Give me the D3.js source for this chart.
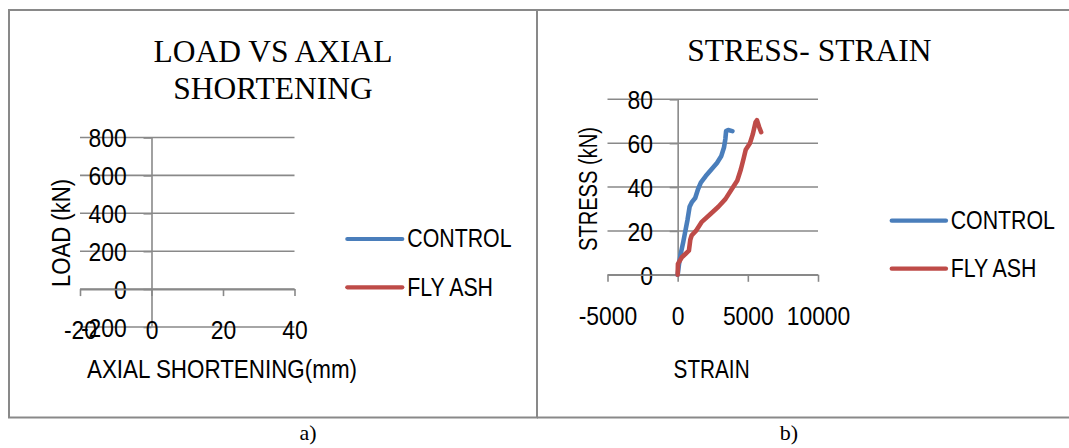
<!DOCTYPE html>
<html><head><meta charset="utf-8">
<script src="https://cdn.jsdelivr.net/npm/d3@7"></script>
<style>
html,body{margin:0;padding:0;background:#fff;}
svg{display:block;}
</style></head><body>
<svg id="c" width="1069" height="448"></svg>
<script>
// ---------- data ----------
const seriesNames = ["CONTROL", "FLY ASH"];
const seriesColors = ["#4a7ebb", "#be4b48"];

// Chart a) LOAD vs AXIAL SHORTENING (no plotted data in the figure)
const loadTitle = ["LOAD VS AXIAL", "SHORTENING"];
const loadXLabel = "AXIAL SHORTENING(mm)";
const loadYLabel = "LOAD (kN)";
const loadXTicks = [-20, 0, 20, 40];
const loadYTicks = [-200, 0, 200, 400, 600, 800];
const loadControl = [];
const loadFlyAsh = [];

// Chart b) STRESS - STRAIN  ([strain, stress])
const stressTitle = ["STRESS- STRAIN"];
const stressXLabel = "STRAIN";
const stressYLabel = "STRESS (kN)";
const stressXTicks = [-5000, 0, 5000, 10000];
const stressYTicks = [0, 20, 40, 60, 80];
const stressControl = [
  [0,0],[100,5],[200,9],[400,15],[550,20],[700,25],[850,31],[1000,33],[1250,35],
  [1450,39],[1650,42],[2000,45],[2400,48],[2800,51],[3100,54],[3300,58],[3400,62],
  [3450,65.5],[3600,66],[3900,65.5]
];
const stressFlyAsh = [
  [0,0],[20,5],[300,8],[550,9.5],[800,11],[900,16],[1000,18],[1300,20],[1700,24],
  [2300,27.5],[2900,31],[3400,34.5],[3850,39],[4250,43],[4500,48],[4700,53],[4850,57],
  [5150,60],[5350,64],[5550,69.5],[5650,70.5],[5800,67.5],[5950,65]
];

// ---------- drawing ----------
const svg = d3.select("#c");
const SANS = '"Liberation Sans",Arial,sans-serif';
const SERIF = '"Liberation Serif","Times New Roman",serif';
const GRID = "#898989";

// condense text horizontally (Calibri / narrow look)
function condense(sel, factor) {
  sel.each(function () {
    const w = this.getComputedTextLength();
    d3.select(this).attr("textLength", w * factor).attr("lengthAdjust", "spacingAndGlyphs");
  });
}

// panel frames
svg.append("rect").attr("x", 9).attr("y", 10).attr("width", 528).attr("height", 407.5)
  .attr("fill", "none").attr("stroke", GRID).attr("stroke-width", 2);
svg.append("line").attr("x1", 537).attr("x2", 1069).attr("y1", 10).attr("y2", 10)
  .attr("stroke", GRID).attr("stroke-width", 2);
svg.append("line").attr("x1", 537).attr("x2", 1069).attr("y1", 417.5).attr("y2", 417.5)
  .attr("stroke", GRID).attr("stroke-width", 2);

function drawChart(cfg) {
  const g = svg.append("g");
  const x = d3.scaleLinear().domain(cfg.xDomain).range(cfg.xRange);
  const y = d3.scaleLinear().domain(cfg.yDomain).range(cfg.yRange);

  // title
  cfg.title.forEach((t, i) => {
    g.append("text").attr("x", cfg.titleX).attr("y", cfg.titleY + i * 37)
      .attr("text-anchor", "middle").style("font-family", SERIF)
      .style("font-size", "31.5px").attr("fill", "#000").text(t);
  });

  // gridlines
  g.append("g").selectAll("line").data(cfg.yTicks).join("line")
    .attr("x1", x(cfg.xDomain[0])).attr("x2", x(cfg.xDomain[1]))
    .attr("y1", d => y(d)).attr("y2", d => y(d))
    .attr("stroke", GRID).attr("stroke-width", 1.6);

  // y axis at x = 0
  const ya = g.append("g").attr("transform", `translate(${x(0)},0)`)
    .call(d3.axisLeft(y).tickValues(cfg.yTicks).tickFormat(d => String(d))
      .tickSizeInner(8).tickSizeOuter(0).tickPadding(16.7));
  // x axis at y = 0
  const xa = g.append("g").attr("transform", `translate(0,${y(0)})`)
    .call(d3.axisBottom(x).tickValues(cfg.xTicks).tickFormat(d => String(d))
      .tickSizeInner(7).tickSizeOuter(0).tickPadding(cfg.xPad));
  [ya, xa].forEach(a => {
    a.select(".domain").attr("stroke", GRID).attr("stroke-width", 1.6);
    a.selectAll(".tick line").attr("stroke", GRID).attr("stroke-width", 1.6);
    a.selectAll(".tick text").attr("fill", "#000")
      .style("font-family", SANS).style("font-size", "26px");
    condense(a.selectAll(".tick text"), 0.88);
  });
  ya.selectAll(".tick text").attr("dy", "0.36em");

  // axis titles
  const yt = g.append("text")
    .attr("transform", `translate(${cfg.yLabelX},${cfg.yLabelY}) rotate(-90)`)
    .attr("text-anchor", "middle").style("font-family", SANS).style("font-size", "26px")
    .attr("fill", "#000").text(cfg.yLabel)
    .attr("textLength", cfg.yLabelLen).attr("lengthAdjust", "spacingAndGlyphs");
  const xt = g.append("text").attr("x", cfg.xLabelX).attr("y", cfg.xLabelY)
    .attr("text-anchor", "middle").style("font-family", SANS).style("font-size", "26px")
    .attr("fill", "#000").text(cfg.xLabel)
    .attr("textLength", cfg.xLabelLen).attr("lengthAdjust", "spacingAndGlyphs");

  // series
  const line = d3.line().x(d => x(d[0])).y(d => y(d[1]));
  cfg.series.forEach((s, i) => {
    if (!s.length) return;
    g.append("path").datum(s).attr("d", line).attr("fill", "none")
      .attr("stroke", seriesColors[i]).attr("stroke-width", 4.6)
      .attr("stroke-linejoin", "round").attr("stroke-linecap", "round");
  });

  // legend
  seriesNames.forEach((n, i) => {
    const ly = cfg.legY[i];
    g.append("line").attr("x1", cfg.legX1).attr("x2", cfg.legX2)
      .attr("y1", ly).attr("y2", ly).attr("stroke", seriesColors[i])
      .attr("stroke-width", 4.2).attr("stroke-linecap", "round");
    const t = g.append("text").attr("x", cfg.legTextX).attr("y", ly + 8.2)
      .style("font-family", SANS).style("font-size", "26px").attr("fill", "#000").text(n);
    condense(t, 0.82);
  });

  // caption
  g.append("text").attr("x", cfg.capX).attr("y", 440).attr("text-anchor", "middle")
    .style("font-family", SERIF).style("font-size", "22px").attr("fill", "#000").text(cfg.caption);
}

drawChart({
  xDomain: [-20, 40], xRange: [80, 294.5],
  yDomain: [-200, 800], yRange: [327, 137.5],
  xTicks: loadXTicks, yTicks: loadYTicks, xPad: 24,
  title: loadTitle, titleX: 273, titleY: 61.7,
  yLabel: loadYLabel, yLabelX: 70, yLabelY: 233, yLabelLen: 108,
  xLabel: loadXLabel, xLabelX: 222, xLabelY: 377.7, xLabelLen: 270,
  series: [loadControl, loadFlyAsh],
  legX1: 347.3, legX2: 402.3, legTextX: 407.3, legY: [239, 287.3],
  caption: "a)", capX: 308
});

drawChart({
  xDomain: [-5000, 10000], xRange: [607.5, 818],
  yDomain: [0, 80], yRange: [274.8, 99.3],
  xTicks: stressXTicks, yTicks: stressYTicks, xPad: 24.5,
  title: stressTitle, titleX: 809.4, titleY: 60.7,
  yLabel: stressYLabel, yLabelX: 596.5, yLabelY: 189, yLabelLen: 124,
  xLabel: stressXLabel, xLabelX: 711.6, xLabelY: 378, xLabelLen: 76,
  series: [stressControl, stressFlyAsh],
  legX1: 891.7, legX2: 946, legTextX: 950.7, legY: [220.7, 268.7],
  caption: "b)", capX: 789
});
</script>
</body></html>
